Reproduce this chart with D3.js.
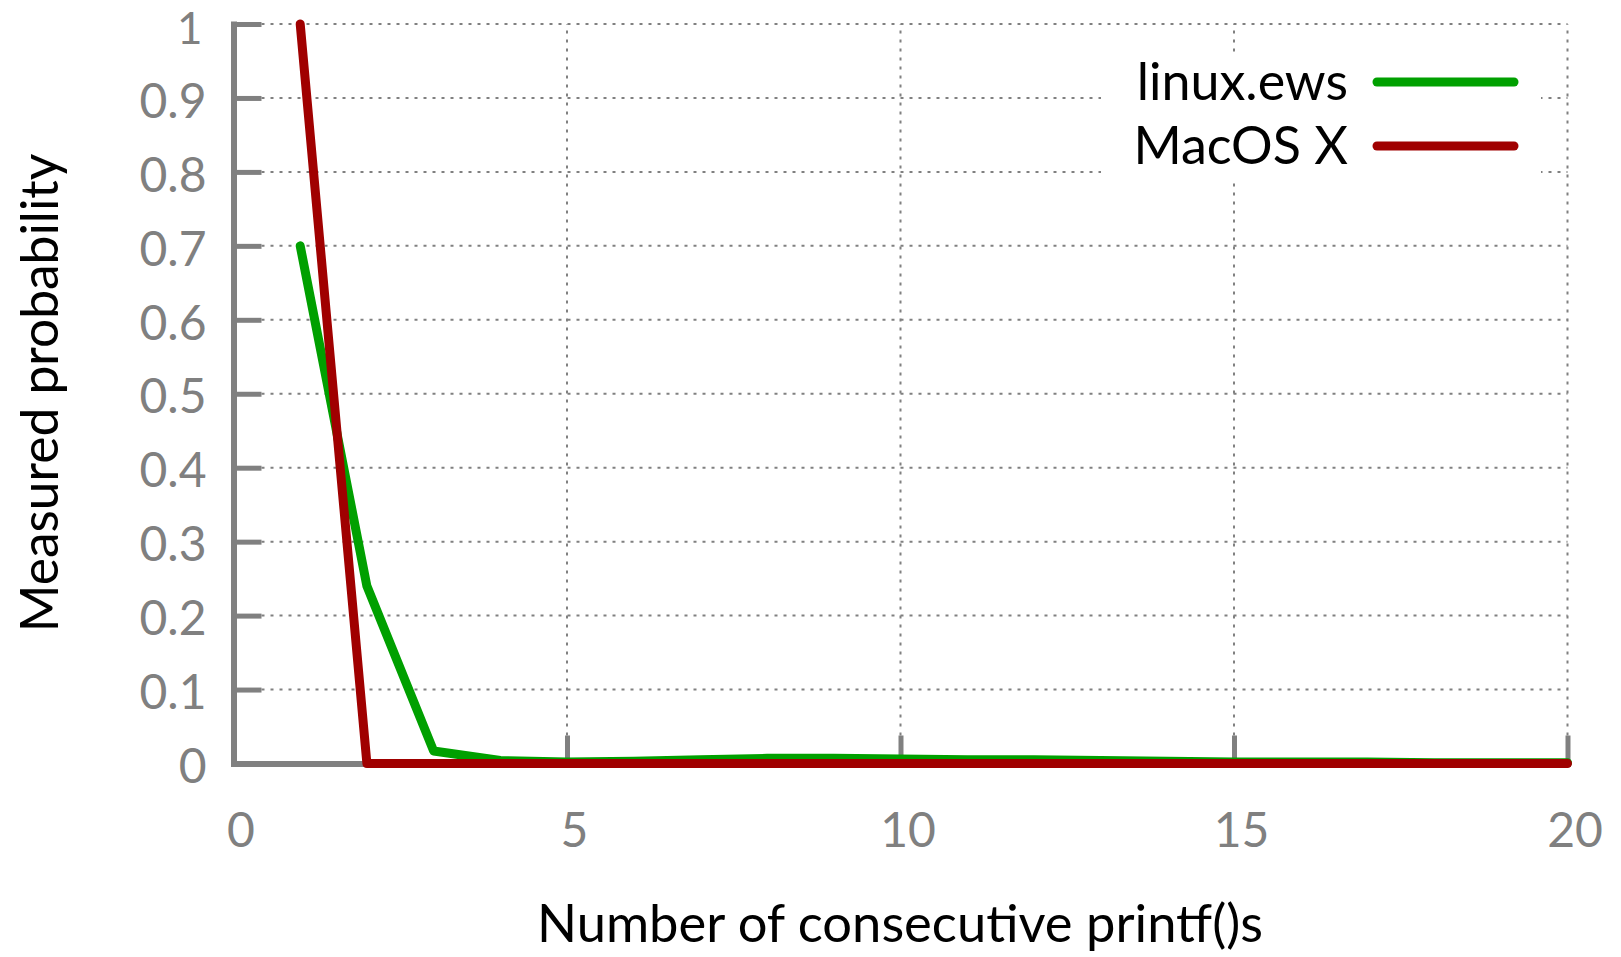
<!DOCTYPE html>
<html>
<head>
<meta charset="utf-8">
<script src="https://cdn.jsdelivr.net/npm/d3@7"></script>
<style>
  html, body { margin: 0; padding: 0; background: #fff; }
  svg { display: block; }
  text { font-family: Lato, "Open Sans", sans-serif; }
</style>
</head>
<body>
<svg id="chart" width="1621" height="957"></svg>
<script>
// ---- data ----
const xValues = [1, 2, 3, 4, 5, 6, 7, 8, 9, 10, 11, 12, 13, 14, 15, 16, 17, 18, 19, 20];
const linuxEws = [0.70, 0.24, 0.017, 0.004, 0.002, 0.003, 0.005, 0.007, 0.007, 0.006, 0.005, 0.005, 0.004, 0.003, 0.002, 0.002, 0.002, 0.001, 0.001, 0.001];
const macOSX   = [1.0, 0.0, 0.0, 0.0, 0.0, 0.0, 0.0, 0.0, 0.0, 0.0, 0.0, 0.0, 0.0, 0.0, 0.0, 0.0, 0.0, 0.0, 0.0, 0.0];
const seriesNames = ["linux.ews", "MacOS X"];
const seriesColors = ["#00a000", "#a00000"];
const xTicks = [0, 5, 10, 15, 20];
const yTicks = [0, 0.1, 0.2, 0.3, 0.4, 0.5, 0.6, 0.7, 0.8, 0.9, 1.0];
const xTitle = "Number of consecutive printf()s";
const yTitle = "Measured probability";

// ---- layout ----
const svg = d3.select("#chart");
const x = d3.scaleLinear().domain([0, 20]).range([233.5, 1567.5]);
const y = d3.scaleLinear().domain([0, 1]).range([763.5, 24]);
const axisColor = "#808080";
const tickLen = 28;

// gridlines
const grid = svg.append("g").attr("stroke", axisColor).attr("stroke-width", 2).attr("stroke-dasharray", "3,6");
grid.selectAll("line.h").data(yTicks.filter(d => d > 0)).join("line")
  .attr("x1", x(0) + tickLen).attr("x2", x(20))
  .attr("y1", d => y(d)).attr("y2", d => y(d));
grid.selectAll("line.v").data(xTicks.filter(d => d > 0)).join("line")
  .attr("x1", d => x(d)).attr("x2", d => x(d))
  .attr("y1", y(0) - tickLen).attr("y2", y(1));

// legend background box (covers gridlines)
svg.append("rect").attr("x", 1101).attr("y", 52).attr("width", 440).attr("height", 128).attr("fill", "#fff");

// axes
const fmt = d => (d === 0 ? "0" : d === 1 ? "1" : d3.format(".1f")(d));
const yAxis = svg.append("g").attr("transform", `translate(${x(0)},0)`)
  .call(d3.axisLeft(y).tickValues(yTicks).tickSizeInner(-tickLen).tickSizeOuter(0).tickPadding(27).tickFormat(fmt));
const xAxis = svg.append("g").attr("transform", `translate(0,${y(0)})`)
  .call(d3.axisBottom(x).tickValues(xTicks).tickSizeInner(-tickLen).tickSizeOuter(0).tickPadding(48).tickFormat(d3.format("d")));

[yAxis, xAxis].forEach(a => {
  a.select(".domain").attr("stroke", axisColor).attr("stroke-width", 6).attr("stroke-linecap", "square");
  a.selectAll(".tick line").attr("stroke", axisColor).attr("stroke-width", 5);
  a.selectAll(".tick text").attr("fill", axisColor).style("font-size", "48px").style("font-family", "Lato, sans-serif");
});
yAxis.selectAll(".tick text").attr("dy", "0.4em");
// top label: keep its glyph bottom at the same baseline, slightly smaller so it stays inside the page
yAxis.selectAll(".tick").filter(d => d === 1).select("text")
  .style("font-size", "44px").attr("dy", 19.5).attr("x", -31);
xAxis.selectAll(".tick text").attr("dx", 7).attr("dy", "0.74em");
xAxis.selectAll(".tick").filter(d => d === 0).select("line").remove();
yAxis.selectAll(".tick").filter(d => d === 0).select("line").remove();

// series lines
const line = d3.line().x((d, i) => x(xValues[i])).y(d => y(d));
[linuxEws, macOSX].forEach((s, i) => {
  svg.append("path").datum(s).attr("d", line)
    .attr("fill", "none").attr("stroke", seriesColors[i]).attr("stroke-width", 9)
    .attr("stroke-linejoin", "round").attr("stroke-linecap", "round");
});

// legend
const legY = [82, 146];
seriesNames.forEach((n, i) => {
  svg.append("text").attr("x", 1348).attr("y", legY[i] + 18).attr("text-anchor", "end")
    .style("font-size", "52px").attr("fill", "#000").text(n);
  svg.append("line").attr("x1", 1377).attr("x2", 1514).attr("y1", legY[i]).attr("y2", legY[i])
    .attr("stroke", seriesColors[i]).attr("stroke-width", 9).attr("stroke-linecap", "round");
});

// titles
svg.append("text").attr("x", 900).attr("y", 942).attr("text-anchor", "middle")
  .style("font-size", "52.5px").attr("fill", "#000").text(xTitle);
svg.append("text").attr("transform", "translate(58,393) rotate(-90)").attr("text-anchor", "middle")
  .style("font-size", "51.5px").attr("fill", "#000").text(yTitle);
</script>
</body>
</html>
